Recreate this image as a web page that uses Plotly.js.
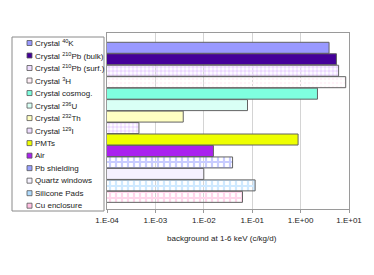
<!DOCTYPE html>
<html>
<head>
<meta charset="utf-8">
<script src="https://cdn.plot.ly/plotly-3.0.1.min.js"></script>
<style>html,body{margin:0;padding:0;background:#fff}#chart{width:374px;height:275px}</style>
</head>
<body>
<div id="chart"></div>
<script>
// Data
const labels = ["Crystal <sup>40</sup>K", "Crystal <sup>210</sup>Pb (bulk)", "Crystal <sup>210</sup>Pb (surf.)",
  "Crystal <sup>3</sup>H", "Crystal cosmog.", "Crystal <sup>236</sup>U", "Crystal <sup>232</sup>Th",
  "Crystal <sup>129</sup>I", "PMTs", "Air", "Pb shielding", "Quartz windows", "Silicone Pads", "Cu enclosure"];
const background = [3.87, 5.5, 6.1, 8.55, 2.23, 0.080, 0.00376, 0.000457, 0.887, 0.0158, 0.0393, 0.0100, 0.115, 0.063];
const tickValues = [1e-4, 1e-3, 1e-2, 1e-1, 1e0, 1e1];
const tickLabels = ["1.E-04", "1.E-03", "1.E-02", "1.E-01", "1.E+00", "1.E+01"];
const xTitle = "background at 1-6 keV (c/kg/d)";

// Styles
const fillColors = ["#9999ff", "#440099", "#ecd8ff", "#fff2f8", "#7fffdf", "#d9fff5", "#ffffc2", "#ecd8ff",
  "#eeff00", "#aa22ee", "#c8ccff", "#f5f1ff", "#cfe9ff", "#ffd6eb"];
const patShapes = ["", "", ".", ".", "", "", "", ".", "", "", "+", "", "+", "+"];
const patFg = ["#000000", "#000000", "#e8d4fc", "#ffd2e8", "#000000", "#000000", "#000000", "#e8d4fc", "#000000", "#000000",
  "#5a60ff", "#000000", "#6cbcff", "#ff9ccc"];
const patSize = [6, 6, 4, 4, 6, 6, 6, 4, 6, 6, 6, 6, 6, 6];
const patSolid = [0.3, 0.3, 0.6, 0.35, 0.3, 0.3, 0.3, 0.6, 0.3, 0.3, 0.6, 0.3, 0.6, 0.6];
const swatch = ["#9999ff", "#440099", "#eeddff", "#ffeef6", "#7fffdf", "#d9fff5", "#ffffc2", "#eeddff",
  "#eeff00", "#aa22ee", "#9aa2ff", "#f6f2ff", "#b0dcff", "#ffc0e2"];

const M = {l: 10, r: 25, t: 33, b: 66};
const W = 374, H = 275;
const pw = W - M.l - M.r, ph = H - M.t - M.b;
const px = x => (x - M.l) / pw;
const py = y => (H - M.b - y) / ph;

const idx = labels.map((_, i) => i);

const bars = {
  type: "bar", orientation: "h",
  x: background, y: idx,
  xaxis: "x", yaxis: "y",
  width: 0.96,
  marker: {
    color: fillColors,
    line: {color: "#626262", width: 1},
    pattern: {shape: patShapes, fgcolor: patFg, size: patSize, solidity: patSolid, fillmode: "replace"}
  },
  showlegend: false, hoverinfo: "x"
};

const legendMarks = {
  type: "scatter", mode: "markers",
  x: labels.map(() => 29.5), y: idx,
  xaxis: "x2", yaxis: "y2",
  marker: {symbol: "square", size: 5, color: swatch, line: {color: "#555", width: 0.8}},
  cliponaxis: false, showlegend: false, hoverinfo: "skip"
};

const legendText = labels.map((t, i) => ({
  text: t, xref: "x2", yref: "y2", x: 32.5, y: i,
  xanchor: "left", yanchor: "middle", showarrow: false,
  font: {size: 8, color: "#222"}
}));

const layout = {
  width: W, height: H,
  margin: M,
  paper_bgcolor: "#fff", plot_bgcolor: "#fff",
  font: {family: "Liberation Sans, Arial, sans-serif", size: 8, color: "#222"},
  bargap: 0.04,
  xaxis: {
    type: "log", range: [-4, 1], domain: [px(107), 1],
    tickvals: tickValues, ticktext: tickLabels,
    showgrid: true, gridcolor: "#d4d4d4", gridwidth: 1,
    showline: true, linecolor: "#9a9a9a", linewidth: 1, mirror: true,
    ticks: "outside", ticklen: 3, tickcolor: "#9a9a9a",
    tickfont: {size: 8}, zeroline: false, fixedrange: true
  },
  yaxis: {
    type: "linear", range: [14.06, -1.29], domain: [0, 1],
    showticklabels: false, showgrid: false, zeroline: false,
    showline: true, linecolor: "#9a9a9a", linewidth: 1, mirror: true, ticks: "", fixedrange: true
  },
  xaxis2: {
    domain: [0, px(107)], range: [10, 107], anchor: "y2",
    visible: false, fixedrange: true
  },
  yaxis2: {
    domain: [0, 1], range: [13 + 3.3 / 12.52, -10 / 12.52], anchor: "x2",
    visible: false, fixedrange: true
  },
  shapes: [{
    type: "rect", xref: "paper", yref: "paper",
    x0: px(12), x1: px(104), y0: py(211), y1: py(37),
    line: {color: "#8a8a8a", width: 1}, fillcolor: "rgba(0,0,0,0)", layer: "below"
  }],
  annotations: legendText.concat([{
    text: xTitle, xref: "paper", yref: "paper",
    x: px(221.5), y: py(238.3), xanchor: "center", yanchor: "middle",
    showarrow: false, font: {size: 8, color: "#222"}
  }])
};

Plotly.newPlot("chart", [bars, legendMarks], layout, {displayModeBar: false, staticPlot: true});
</script>
</body>
</html>
